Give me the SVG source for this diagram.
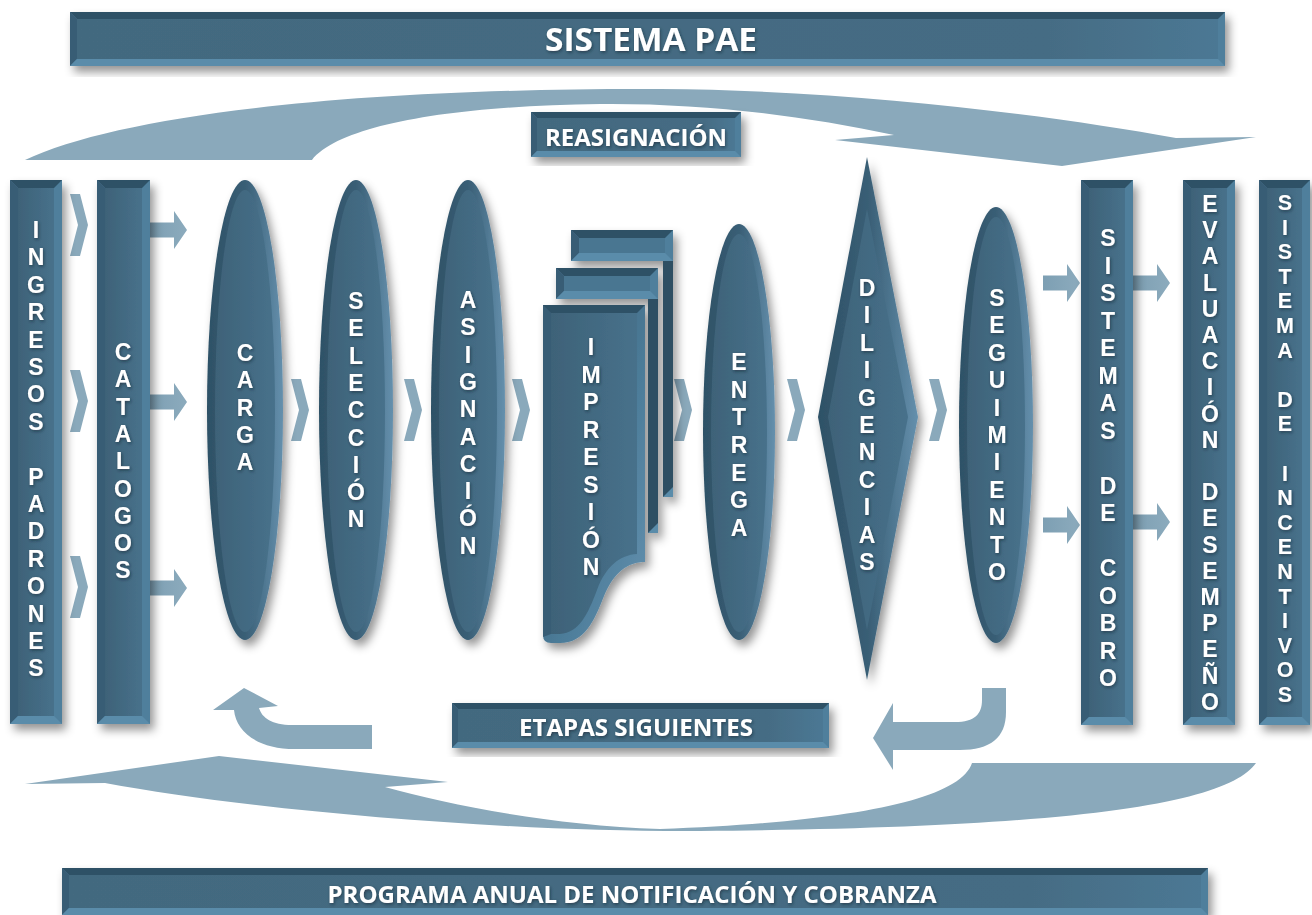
<svg xmlns="http://www.w3.org/2000/svg" width="1312" height="915" viewBox="0 0 1312 915">
<defs>
<filter id="sh" x="-30%" y="-10%" width="160%" height="130%">
<feDropShadow dx="4" dy="6" stdDeviation="5" flood-color="#000" flood-opacity="0.42"/>
</filter>
<filter id="ts" x="-20%" y="-20%" width="140%" height="140%">
<feDropShadow dx="1" dy="1.5" stdDeviation="1.5" flood-color="#10202a" flood-opacity="0.55"/>
</filter>
<linearGradient id="face" x1="0" y1="0" x2="1" y2="0">
<stop offset="0" stop-color="#3e6278"/>
<stop offset="1" stop-color="#47718b"/>
</linearGradient>
<linearGradient id="faceB" x1="0" y1="0" x2="1" y2="0">
<stop offset="0" stop-color="#43697f"/>
<stop offset="0.85" stop-color="#456c84"/>
<stop offset="1" stop-color="#4c7894"/>
</linearGradient>
<linearGradient id="rim" x1="0" y1="0" x2="1" y2="0">
<stop offset="0" stop-color="#2e5166"/>
<stop offset="0.5" stop-color="#395e75"/>
<stop offset="1" stop-color="#6590ad"/>
</linearGradient>
<linearGradient id="docRim" x1="0" y1="0" x2="1" y2="1">
<stop offset="0" stop-color="#34576c"/>
<stop offset="0.6" stop-color="#4d7d9a"/>
<stop offset="1" stop-color="#6592b0"/>
</linearGradient>
<linearGradient id="arr" x1="0" y1="0" x2="1" y2="0">
<stop offset="0" stop-color="#7d9fb3"/>
<stop offset="1" stop-color="#8cabbd"/>
</linearGradient>
<style>
.bt{fill:#2f5166}
.bl{fill:#395d74}
.br{fill:#4f7f9c}
.bb{fill:#5a8caa}
.fc{fill:url(#face)}
.fb{fill:url(#faceB)}
.ft{fill:#497691}
.strip{fill:#2f5063}
.con{fill:#8aa9bb}
.ba{fill:url(#arr)}
.node{filter:url(#sh)}
.vt{font-family:"Liberation Sans",Arial,sans-serif;font-weight:700;font-size:23px;fill:#ffffff;text-anchor:middle;filter:url(#ts)}
.vs{font-size:21.5px}
.ht{font-family:"Open Sans","Liberation Sans",sans-serif;font-weight:700;fill:#ffffff;text-anchor:middle;filter:url(#ts)}
</style>
</defs>
<rect width="1312" height="915" fill="#ffffff"/>

<g id="connectors">
<path class="con" d="M25,160 C120,115 350,88 660,89 C850,90 1050,115 1176,138 L1256,137 L1062,166 L835,140 L894,135 C800,115 700,103 600,104 C450,106 340,125 312,160 Z"/>
<path class="con" d="M972,763 L1256,763 C1230,800 1100,828 700,831 C500,832 250,810 105,783 L25,784 L219,756 L448,782 L385,787 C450,805 550,825 660,829 C850,822 960,800 972,763 Z"/>
<path class="con" d="M372,725 L372,749 L295,749 C258,749 236,732 234,710 L213,710 L244,688 L278,706 L259,708 C262,718 272,725 292,725 Z"/>
<path class="con" d="M1006,688 L1006,712 C1006,738 990,750 960,750 L893,750 L893,770 L873,738 L893,703 L893,722 L955,722 C975,722 982,714 982,700 L982,688 Z"/>
<path class="con" d="M70,194 L80,194 L88,225 L80,256 L70,256 L78,225 Z"/>
<path class="con" d="M70,370 L80,370 L88,401 L80,432 L70,432 L78,401 Z"/>
<path class="con" d="M70,556 L80,556 L88,587 L80,618 L70,618 L78,587 Z"/>
<path class="con" d="M291,379 L301,379 L309,410 L301,441 L291,441 L299,410 Z"/>
<path class="con" d="M404,379 L414,379 L422,410 L414,441 L404,441 L412,410 Z"/>
<path class="con" d="M512,379 L522,379 L530,410 L522,441 L512,441 L520,410 Z"/>
<path class="con" d="M674,379 L684,379 L692,410 L684,441 L674,441 L682,410 Z"/>
<path class="con" d="M787,379 L797,379 L805,410 L797,441 L787,441 L795,410 Z"/>
<path class="con" d="M929,379 L939,379 L947,410 L939,441 L929,441 L937,410 Z"/>
<path class="ba" d="M150,222.5 L174,222.5 L174,211 L187,230 L174,249 L174,237.5 L150,237.5 Z"/>
<path class="ba" d="M150,394.5 L174,394.5 L174,383 L187,402 L174,421 L174,409.5 L150,409.5 Z"/>
<path class="ba" d="M150,580.5 L174,580.5 L174,569 L187,588 L174,607 L174,595.5 L150,595.5 Z"/>
<path class="ba" d="M1043,275.5 L1067,275.5 L1067,264 L1080,283 L1067,302 L1067,290.5 L1043,290.5 Z"/>
<path class="ba" d="M1043,517.5 L1067,517.5 L1067,506 L1080,525 L1067,544 L1067,532.5 L1043,532.5 Z"/>
<path class="ba" d="M1133,275.5 L1157,275.5 L1157,264 L1170,283 L1157,302 L1157,290.5 L1133,290.5 Z"/>
<path class="ba" d="M1133,514.5 L1157,514.5 L1157,503 L1170,522 L1157,541 L1157,529.5 L1133,529.5 Z"/>
</g>

<g id="sistema-pae" class="node">
<rect class="br" x="70" y="12" width="1155" height="54"/>
<polygon class="bt" points="70,12 1225,12 1218,19 77,19"/>
<polygon class="bl" points="70,12 77,19 77,59 70,66"/>
<polygon class="bb" points="70,66 77,59 1218,59 1225,66"/>
<rect class="fb" x="77" y="19" width="1141" height="40"/>
<text class="ht" x="651" y="51" font-size="32" textLength="212" lengthAdjust="spacingAndGlyphs">SISTEMA PAE</text>
</g>

<g id="reasignacion" class="node">
<rect class="br" x="531" y="112" width="210" height="45"/>
<polygon class="bt" points="531,112 741,112 735,118 537,118"/>
<polygon class="bl" points="531,112 537,118 537,151 531,157"/>
<polygon class="bb" points="531,157 537,151 735,151 741,157"/>
<rect class="fb" x="537" y="118" width="198" height="33"/>
<text class="ht" x="636" y="146" font-size="23" textLength="182" lengthAdjust="spacingAndGlyphs">REASIGNACIÓN</text>
</g>

<g id="ingresos-padrones" class="node">
<rect class="br" x="10" y="180" width="52" height="544"/>
<polygon class="bt" points="10,180 62,180 54,188 18,188"/>
<polygon class="bl" points="10,180 18,188 18,716 10,724"/>
<polygon class="bb" points="10,724 18,716 54,716 62,724"/>
<rect class="fc" x="18" y="188" width="36" height="528"/>
<text class="vt"><tspan x="36" y="238">I</tspan><tspan x="36" y="265">N</tspan><tspan x="36" y="293">G</tspan><tspan x="36" y="320">R</tspan><tspan x="36" y="348">E</tspan><tspan x="36" y="375">S</tspan><tspan x="36" y="402">O</tspan><tspan x="36" y="430">S</tspan><tspan x="36" y="485">P</tspan><tspan x="36" y="512">A</tspan><tspan x="36" y="539">D</tspan><tspan x="36" y="567">R</tspan><tspan x="36" y="594">O</tspan><tspan x="36" y="622">N</tspan><tspan x="36" y="649">E</tspan><tspan x="36" y="676">S</tspan></text>
</g>

<g id="catalogos" class="node">
<rect class="br" x="97" y="180" width="53" height="544"/>
<polygon class="bt" points="97,180 150,180 142,188 105,188"/>
<polygon class="bl" points="97,180 105,188 105,716 97,724"/>
<polygon class="bb" points="97,724 105,716 142,716 150,724"/>
<rect class="fc" x="105" y="188" width="37" height="528"/>
<text class="vt"><tspan x="123" y="360">C</tspan><tspan x="123" y="387">A</tspan><tspan x="123" y="415">T</tspan><tspan x="123" y="442">A</tspan><tspan x="123" y="469">L</tspan><tspan x="123" y="497">O</tspan><tspan x="123" y="524">G</tspan><tspan x="123" y="551">O</tspan><tspan x="123" y="578">S</tspan></text>
</g>

<g id="carga" class="node">
<ellipse cx="245" cy="410" rx="38" ry="230" fill="url(#rim)"/>
<ellipse cx="245" cy="411" rx="30" ry="221" fill="url(#face)"/>
<text class="vt"><tspan x="245" y="361">C</tspan><tspan x="245" y="388">A</tspan><tspan x="245" y="416">R</tspan><tspan x="245" y="443">G</tspan><tspan x="245" y="470">A</tspan></text>
</g>

<g id="seleccion" class="node">
<ellipse cx="356" cy="410" rx="37" ry="230" fill="url(#rim)"/>
<ellipse cx="356" cy="411" rx="29" ry="221" fill="url(#face)"/>
<text class="vt"><tspan x="356" y="309">S</tspan><tspan x="356" y="336">E</tspan><tspan x="356" y="364">L</tspan><tspan x="356" y="391">E</tspan><tspan x="356" y="418">C</tspan><tspan x="356" y="446">C</tspan><tspan x="356" y="473">I</tspan><tspan x="356" y="500">Ó</tspan><tspan x="356" y="527">N</tspan></text>
</g>

<g id="asignacion" class="node">
<ellipse cx="468" cy="410" rx="37" ry="230" fill="url(#rim)"/>
<ellipse cx="468" cy="411" rx="29" ry="221" fill="url(#face)"/>
<text class="vt"><tspan x="468" y="308">A</tspan><tspan x="468" y="335">S</tspan><tspan x="468" y="363">I</tspan><tspan x="468" y="390">G</tspan><tspan x="468" y="417">N</tspan><tspan x="468" y="445">A</tspan><tspan x="468" y="472">C</tspan><tspan x="468" y="499">I</tspan><tspan x="468" y="526">Ó</tspan><tspan x="468" y="554">N</tspan></text>
</g>

<g id="impresion" class="node">
<g>
<rect class="strip" x="663" y="250" width="10" height="247"/>
<polygon fill="#5a8caa" points="663,497 673,497 673,487"/>
<rect class="br" x="571" y="230" width="102" height="31"/>
<polygon class="bt" points="571,230 673,230 665,238 579,238"/>
<polygon class="bl" points="571,230 579,238 579,253 571,261"/>
<polygon class="bb" points="571,261 579,253 665,253 673,261"/>
<rect class="ft" x="579" y="238" width="86" height="15"/>
</g>
<g>
<rect class="strip" x="648" y="288" width="10" height="245"/>
<polygon fill="#5a8caa" points="648,533 658,533 658,523"/>
<rect class="br" x="556" y="268" width="102" height="31"/>
<polygon class="bt" points="556,268 658,268 650,276 564,276"/>
<polygon class="bl" points="556,268 564,276 564,291 556,299"/>
<polygon class="bb" points="556,299 564,291 650,291 658,299"/>
<rect class="ft" x="564" y="276" width="86" height="15"/>
</g>
<path fill="url(#docRim)" d="M543,305 L645,305 L645,562 C628,562 614,572 604,596 C594,622 584,643 560,643 L551,643 Q543,643 543,635 Z"/>
<polygon class="bt" points="543,305 645,305 637,313 551,313"/>
<polygon class="bl" points="543,305 551,313 551,634 543,637"/>
<path fill="url(#face)" d="M551,313 L637,313 L637,554 C620,555 606,566 597,590 C588,614 579,633 560,634 L551,634 Z"/>
<text class="vt"><tspan x="591" y="355">I</tspan><tspan x="591" y="383">M</tspan><tspan x="591" y="410">P</tspan><tspan x="591" y="438">R</tspan><tspan x="591" y="465">E</tspan><tspan x="591" y="493">S</tspan><tspan x="591" y="520">I</tspan><tspan x="591" y="548">Ó</tspan><tspan x="591" y="575">N</tspan></text>
</g>

<g id="entrega" class="node">
<ellipse cx="739" cy="432" rx="36" ry="208" fill="url(#rim)"/>
<ellipse cx="739" cy="433" rx="28" ry="199" fill="url(#face)"/>
<text class="vt"><tspan x="739" y="370">E</tspan><tspan x="739" y="398">N</tspan><tspan x="739" y="425">T</tspan><tspan x="739" y="453">R</tspan><tspan x="739" y="481">E</tspan><tspan x="739" y="508">G</tspan><tspan x="739" y="536">A</tspan></text>
</g>

<g id="diligencias" class="node">
<polygon fill="url(#rim)" points="867,157 918,417 867,680 818,417"/>
<polygon fill="url(#face)" points="867,209 908,417 867,630 828,417"/>
<text class="vt"><tspan x="867" y="296">D</tspan><tspan x="867" y="323">I</tspan><tspan x="867" y="351">L</tspan><tspan x="867" y="378">I</tspan><tspan x="867" y="406">G</tspan><tspan x="867" y="433">E</tspan><tspan x="867" y="460">N</tspan><tspan x="867" y="488">C</tspan><tspan x="867" y="515">I</tspan><tspan x="867" y="543">A</tspan><tspan x="867" y="570">S</tspan></text>
</g>

<g id="seguimiento" class="node">
<ellipse cx="996" cy="425" rx="37" ry="218" fill="url(#rim)"/>
<ellipse cx="996" cy="426" rx="29" ry="209" fill="url(#face)"/>
<text class="vt"><tspan x="997" y="306">S</tspan><tspan x="997" y="333">E</tspan><tspan x="997" y="361">G</tspan><tspan x="997" y="388">U</tspan><tspan x="997" y="416">I</tspan><tspan x="997" y="443">M</tspan><tspan x="997" y="470">I</tspan><tspan x="997" y="498">E</tspan><tspan x="997" y="525">N</tspan><tspan x="997" y="553">T</tspan><tspan x="997" y="580">O</tspan></text>
</g>

<g id="sistemas-de-cobro" class="node">
<rect class="br" x="1081" y="180" width="52" height="545"/>
<polygon class="bt" points="1081,180 1133,180 1125,188 1089,188"/>
<polygon class="bl" points="1081,180 1089,188 1089,717 1081,725"/>
<polygon class="bb" points="1081,725 1089,717 1125,717 1133,725"/>
<rect class="fc" x="1089" y="188" width="36" height="529"/>
<text class="vt"><tspan x="1108" y="246">S</tspan><tspan x="1108" y="274">I</tspan><tspan x="1108" y="301">S</tspan><tspan x="1108" y="329">T</tspan><tspan x="1108" y="356">E</tspan><tspan x="1108" y="384">M</tspan><tspan x="1108" y="411">A</tspan><tspan x="1108" y="439">S</tspan><tspan x="1108" y="494">D</tspan><tspan x="1108" y="521">E</tspan><tspan x="1108" y="576">C</tspan><tspan x="1108" y="604">O</tspan><tspan x="1108" y="631">B</tspan><tspan x="1108" y="659">R</tspan><tspan x="1108" y="686">O</tspan></text>
</g>

<g id="evaluacion-desempeno" class="node">
<rect class="br" x="1183" y="180" width="52" height="545"/>
<polygon class="bt" points="1183,180 1235,180 1227,188 1191,188"/>
<polygon class="bl" points="1183,180 1191,188 1191,717 1183,725"/>
<polygon class="bb" points="1183,725 1191,717 1227,717 1235,725"/>
<rect class="fc" x="1191" y="188" width="36" height="529"/>
<text class="vt"><tspan x="1210" y="212">E</tspan><tspan x="1210" y="238">V</tspan><tspan x="1210" y="264">A</tspan><tspan x="1210" y="291">L</tspan><tspan x="1210" y="317">U</tspan><tspan x="1210" y="343">A</tspan><tspan x="1210" y="369">C</tspan><tspan x="1210" y="395">I</tspan><tspan x="1210" y="422">Ó</tspan><tspan x="1210" y="448">N</tspan><tspan x="1210" y="500">D</tspan><tspan x="1210" y="526">E</tspan><tspan x="1210" y="553">S</tspan><tspan x="1210" y="579">E</tspan><tspan x="1210" y="605">M</tspan><tspan x="1210" y="631">P</tspan><tspan x="1210" y="657">E</tspan><tspan x="1210" y="684">Ñ</tspan><tspan x="1210" y="710">O</tspan></text>
</g>

<g id="sistema-de-incentivos" class="node">
<rect class="br" x="1259" y="180" width="51" height="545"/>
<polygon class="bt" points="1259,180 1310,180 1302,188 1267,188"/>
<polygon class="bl" points="1259,180 1267,188 1267,717 1259,725"/>
<polygon class="bb" points="1259,725 1267,717 1302,717 1310,725"/>
<rect class="fc" x="1267" y="188" width="35" height="529"/>
<text class="vt vs"><tspan x="1285" y="210">S</tspan><tspan x="1285" y="235">I</tspan><tspan x="1285" y="259">S</tspan><tspan x="1285" y="284">T</tspan><tspan x="1285" y="308">E</tspan><tspan x="1285" y="333">M</tspan><tspan x="1285" y="358">A</tspan><tspan x="1285" y="407">D</tspan><tspan x="1285" y="431">E</tspan><tspan x="1285" y="481">I</tspan><tspan x="1285" y="505">N</tspan><tspan x="1285" y="530">C</tspan><tspan x="1285" y="554">E</tspan><tspan x="1285" y="579">N</tspan><tspan x="1285" y="604">T</tspan><tspan x="1285" y="628">I</tspan><tspan x="1285" y="653">V</tspan><tspan x="1285" y="677">O</tspan><tspan x="1285" y="702">S</tspan></text>
</g>

<g id="etapas-siguientes" class="node">
<rect class="br" x="452" y="703" width="377" height="45"/>
<polygon class="bt" points="452,703 829,703 823,709 458,709"/>
<polygon class="bl" points="452,703 458,709 458,742 452,748"/>
<polygon class="bb" points="452,748 458,742 823,742 829,748"/>
<rect class="fb" x="458" y="709" width="365" height="33"/>
<text class="ht" x="636" y="736" font-size="23" textLength="234" lengthAdjust="spacingAndGlyphs">ETAPAS SIGUIENTES</text>
</g>

<g id="programa-anual" class="node">
<rect class="br" x="62" y="868" width="1146" height="47"/>
<polygon class="bt" points="62,868 1208,868 1201,875 69,875"/>
<polygon class="bl" points="62,868 69,875 69,908 62,915"/>
<polygon class="bb" points="62,915 69,908 1201,908 1208,915"/>
<rect class="fb" x="69" y="875" width="1132" height="33"/>
<text class="ht" x="632" y="903" font-size="23" textLength="609" lengthAdjust="spacingAndGlyphs">PROGRAMA ANUAL DE NOTIFICACIÓN Y COBRANZA</text>
</g>
</svg>
